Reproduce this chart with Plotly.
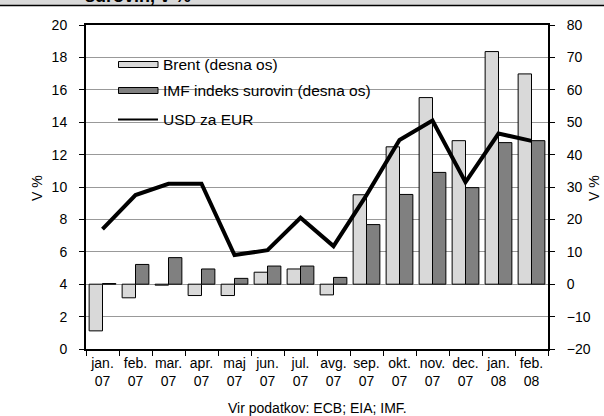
import plotly.graph_objects as go

# ---------------- data ----------------
months = ["jan.<br>07", "feb.<br>07", "mar.<br>07", "apr.<br>07", "maj<br>07", "jun.<br>07",
          "jul.<br>07", "avg.<br>07", "sep.<br>07", "okt.<br>07", "nov.<br>07", "dec.<br>07",
          "jan.<br>08", "feb.<br>08"]
brent = [-14.4, -4.2, -0.3, -3.5, -3.5, 3.7, 4.7, -3.3, 27.6, 42.4, 57.6, 44.3, 71.8, 64.9]
imf = [0.2, 6.1, 8.2, 4.7, 1.8, 5.6, 5.6, 2.1, 18.4, 27.7, 34.5, 29.8, 43.7, 44.3]
usd = [7.4, 9.5, 10.2, 10.2, 5.8, 6.1, 8.1, 6.35, 9.5, 12.9, 14.1, 10.3, 13.3, 12.85]

left_ticks = list(range(0, 21, 2))
right_ticks = list(range(-20, 81, 10))

names = ["Brent (desna os)", "IMF indeks surovin (desna os)", "USD za EUR"]
axis_title = "V %"
source_text = "Vir podatkov: ECB; EIA; IMF."
title_text = "surovin, v %"

# ---------------- layout geometry (px) ----------------
W, H = 604, 416
L, R, T, B = 86, 548, 25, 349
FONT = "Arial, Liberation Sans, sans-serif"


def px_x(x):
    return (x - L) / (R - L)


def px_y(y):
    return (B - y) / (B - T)


LIGHT = "#d9d9d9"
DARK = "#808080"

fig = go.Figure()
fig.add_trace(go.Bar(x=months, y=brent, name=names[0], marker=dict(color=LIGHT, line=dict(color="black", width=1)),
                     yaxis="y", showlegend=False))
fig.add_trace(go.Bar(x=months, y=imf, name=names[1], marker=dict(color=DARK, line=dict(color="black", width=1)),
                     yaxis="y", showlegend=False))
fig.add_trace(go.Scatter(x=months, y=usd, name=names[2], mode="lines", line=dict(color="black", width=4),
                         yaxis="y2", showlegend=False))

shapes = []
annotations = []

# top banner (cut-off title area)
shapes.append(dict(type="rect", xref="paper", yref="paper", x0=px_x(0), x1=px_x(W), y0=px_y(5.5), y1=px_y(-2),
                   fillcolor="#d9d9d9", line=dict(width=0), layer="above"))
annotations.append(dict(text="<b>" + title_text + "</b>", xref="paper", yref="paper", x=px_x(83), y=px_y(8),
                        xanchor="left", yanchor="bottom", showarrow=False, font=dict(family=FONT, size=18, color="black")))
shapes.append(dict(type="line", xref="paper", yref="paper", x0=px_x(0), x1=px_x(W), y0=px_y(5.5), y1=px_y(5.5),
                   line=dict(color="black", width=1.5), layer="above"))

# custom legend
shapes.append(dict(type="rect", xref="paper", yref="paper", x0=px_x(103), x1=px_x(386), y0=px_y(136), y1=px_y(40),
                   fillcolor="white", line=dict(width=0), layer="between"))
leg_y = [64.5, 90.5, 119.5]
for i, (c, yy) in enumerate(zip([LIGHT, DARK], leg_y[:2])):
    shapes.append(dict(type="rect", xref="paper", yref="paper", x0=px_x(118.5), x1=px_x(158), y0=px_y(yy + 3),
                       y1=px_y(yy - 3), fillcolor=c, line=dict(color="black", width=1), layer="above"))
shapes.append(dict(type="line", xref="paper", yref="paper", x0=px_x(118), x1=px_x(158), y0=px_y(leg_y[2]),
                   y1=px_y(leg_y[2]), line=dict(color="black", width=2), layer="above"))
for nm, yy in zip(names, leg_y):
    annotations.append(dict(text=nm, xref="paper", yref="paper", x=px_x(161), y=px_y(yy), xanchor="left",
                            yanchor="middle", showarrow=False, font=dict(family=FONT, size=15.5, color="black")))

# axis titles
for xx in (37, 594):
    annotations.append(dict(text=axis_title, xref="paper", yref="paper", x=px_x(xx), y=px_y(188), textangle=-90,
                            xanchor="center", yanchor="middle", showarrow=False,
                            font=dict(family=FONT, size=14, color="black")))

annotations.append(dict(text=source_text, xref="paper", yref="paper", x=px_x(317), y=px_y(408), xanchor="center",
                        yanchor="middle", showarrow=False, font=dict(family=FONT, size=14, color="black")))

fig.update_layout(
    width=W, height=H,
    margin=dict(l=L, r=W - R, t=T, b=H - B, pad=0),
    paper_bgcolor="white", plot_bgcolor="white",
    font=dict(family=FONT, size=14, color="black"),
    barmode="group", bargap=0.19, bargroupgap=0,
    xaxis=dict(type="category", tickson="boundaries", ticks="outside", ticklen=5, tickwidth=1, tickcolor="black",
               showline=True, linecolor="black", linewidth=2, mirror=True, showgrid=False, automargin=False,
               tickfont=dict(size=14), tickangle=0),
    yaxis=dict(side="right", range=[-20, 80], tickvals=right_ticks, ticks="outside", ticklen=5, tickcolor="black",
               showline=True, linecolor="black", linewidth=2, showgrid=True, gridcolor="#999999", gridwidth=1,
               zeroline=False, ticklabelstandoff=9, tickfont=dict(size=14), automargin=False),
    yaxis2=dict(side="left", overlaying="y", range=[0, 20], tickvals=left_ticks, ticks="outside", ticklen=5,
                tickcolor="black", showline=True, linecolor="black", linewidth=2, showgrid=False, zeroline=False,
                ticklabelstandoff=9, tickfont=dict(size=14), automargin=False),
    shapes=shapes, annotations=annotations,
)

fig.write_html("out.html", config={"displayModeBar": False},
               post_script="document.body.style.margin='0px';")
